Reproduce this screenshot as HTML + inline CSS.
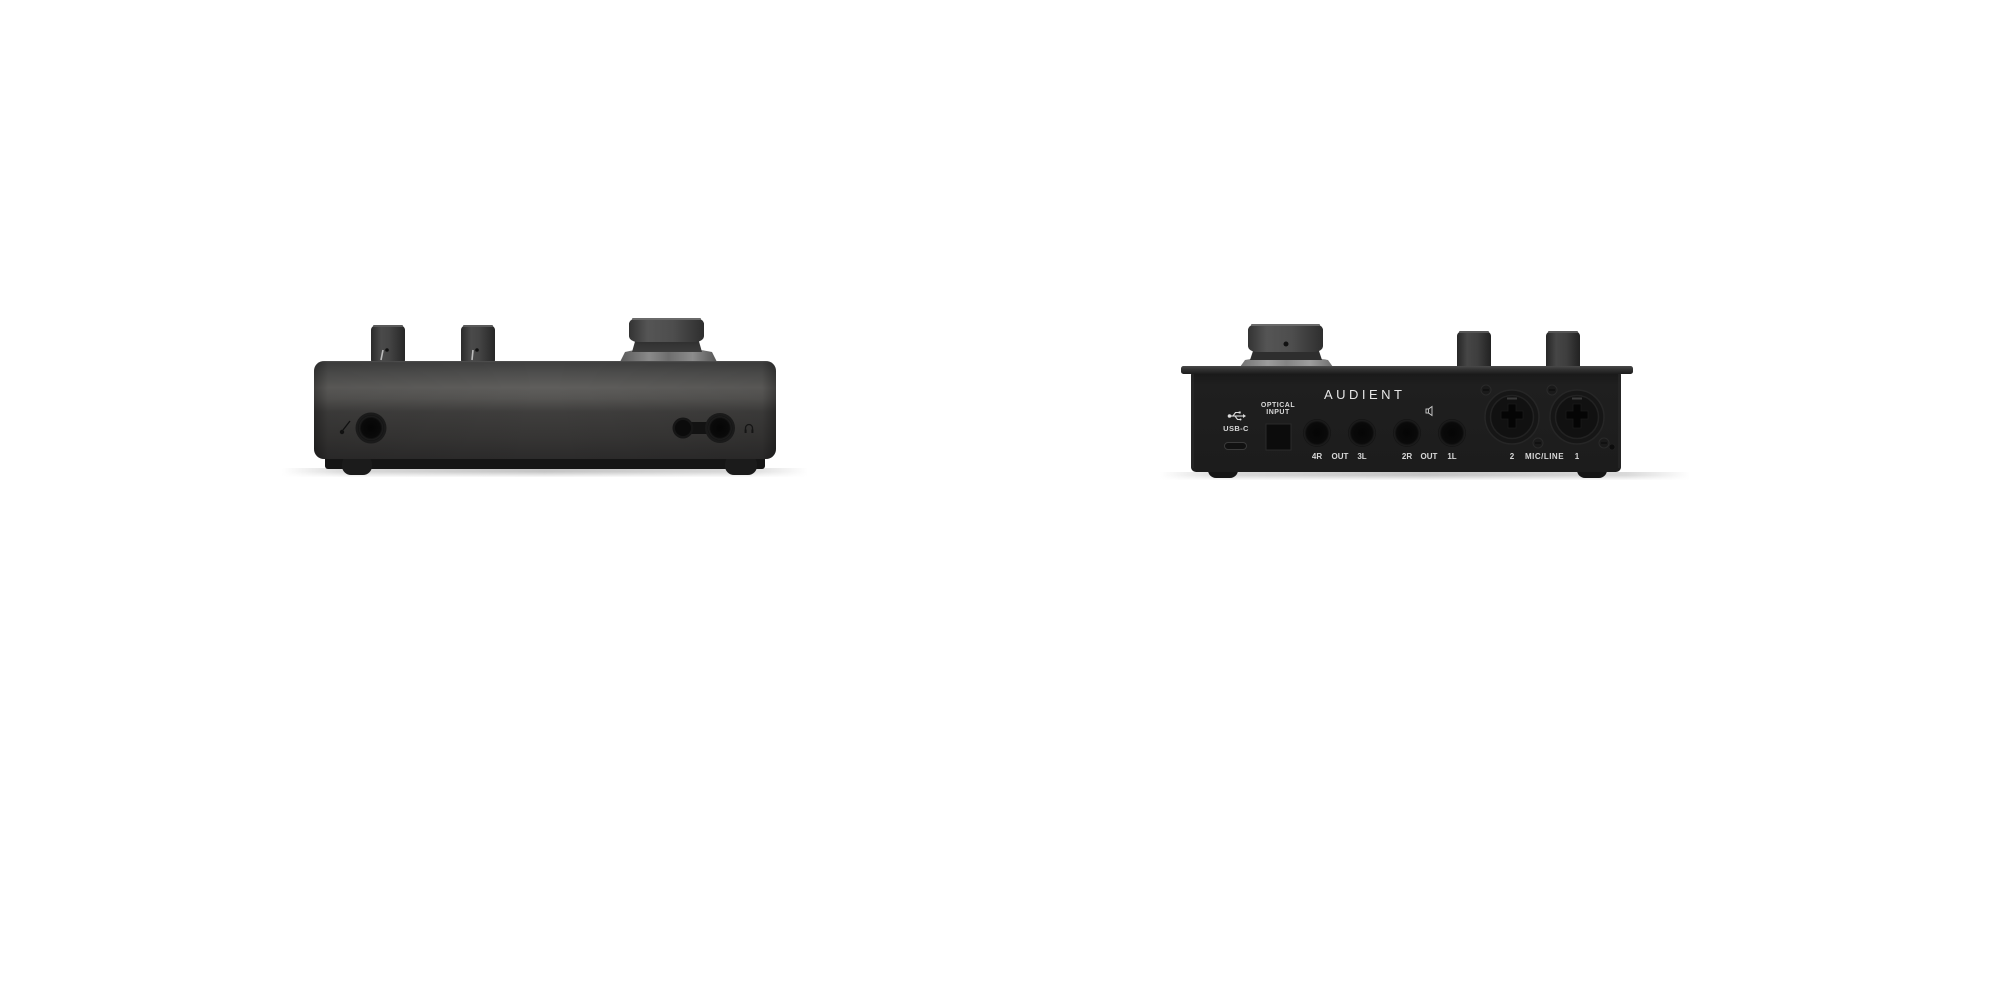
<!DOCTYPE html>
<html>
<head>
<meta charset="utf-8">
<style>
  html,body{margin:0;padding:0;background:#ffffff;}
  body{width:2000px;height:1001px;overflow:hidden;}
  svg{display:block;}
  .lbl{font-family:"Liberation Sans",Arial,sans-serif;font-weight:bold;fill:#d8d8d8;text-anchor:middle;}
</style>
</head>
<body>
<svg width="2000" height="1001" viewBox="0 0 2000 1001" xmlns="http://www.w3.org/2000/svg">
  <defs>
    <linearGradient id="shadowH" x1="0" y1="0" x2="1" y2="0">
      <stop offset="0" stop-color="#ffffff"/>
      <stop offset="0.12" stop-color="#d9d9d9"/>
      <stop offset="0.5" stop-color="#c4c4c4"/>
      <stop offset="0.88" stop-color="#d9d9d9"/>
      <stop offset="1" stop-color="#ffffff"/>
    </linearGradient>
    <linearGradient id="shadowV" x1="0" y1="0" x2="0" y2="1">
      <stop offset="0" stop-color="#fff" stop-opacity="0"/>
      <stop offset="0.4" stop-color="#fff" stop-opacity="0"/>
      <stop offset="1" stop-color="#fff" stop-opacity="0.9"/>
    </linearGradient>
    <linearGradient id="lbody" x1="0" y1="0" x2="0" y2="1">
      <stop offset="0" stop-color="#3e3e3e"/>
      <stop offset="0.12" stop-color="#4e4e4d"/>
      <stop offset="0.27" stop-color="#5f5e5c"/>
      <stop offset="0.38" stop-color="#565553"/>
      <stop offset="0.52" stop-color="#3f3e3d"/>
      <stop offset="0.78" stop-color="#363534"/>
      <stop offset="1" stop-color="#2c2b2b"/>
    </linearGradient>
    <linearGradient id="lbodyEdge" x1="0" y1="0" x2="1" y2="0">
      <stop offset="0" stop-color="#000" stop-opacity="0.35"/>
      <stop offset="0.03" stop-color="#000" stop-opacity="0.08"/>
      <stop offset="0.5" stop-color="#000" stop-opacity="0"/>
      <stop offset="0.97" stop-color="#000" stop-opacity="0.08"/>
      <stop offset="1" stop-color="#000" stop-opacity="0.35"/>
    </linearGradient>
    <linearGradient id="sknob" x1="0" y1="0" x2="1" y2="0">
      <stop offset="0" stop-color="#2a2a2a"/>
      <stop offset="0.3" stop-color="#4a4a4a"/>
      <stop offset="0.55" stop-color="#444"/>
      <stop offset="1" stop-color="#262626"/>
    </linearGradient>
    <linearGradient id="sknobR" x1="0" y1="0" x2="1" y2="0">
      <stop offset="0" stop-color="#262626"/>
      <stop offset="0.3" stop-color="#464646"/>
      <stop offset="0.6" stop-color="#3e3e3e"/>
      <stop offset="1" stop-color="#222"/>
    </linearGradient>
    <linearGradient id="bknob" x1="0" y1="0" x2="1" y2="0">
      <stop offset="0" stop-color="#333"/>
      <stop offset="0.25" stop-color="#555"/>
      <stop offset="0.6" stop-color="#4d4d4d"/>
      <stop offset="1" stop-color="#2e2e2e"/>
    </linearGradient>
    <linearGradient id="bcone" x1="0" y1="0" x2="0" y2="1">
      <stop offset="0" stop-color="#2c2c2c"/>
      <stop offset="1" stop-color="#3c3c3c"/>
    </linearGradient>
    <linearGradient id="flange" x1="0" y1="0" x2="1" y2="0">
      <stop offset="0" stop-color="#5a5a5a"/>
      <stop offset="0.3" stop-color="#8a8a8a"/>
      <stop offset="0.5" stop-color="#6e6e6e"/>
      <stop offset="0.75" stop-color="#8c8c8c"/>
      <stop offset="1" stop-color="#555"/>
    </linearGradient>
    <linearGradient id="lid" x1="0" y1="0" x2="0" y2="1">
      <stop offset="0" stop-color="#4a4a4a"/>
      <stop offset="0.4" stop-color="#333"/>
      <stop offset="1" stop-color="#1c1c1c"/>
    </linearGradient>
    <linearGradient id="rbody" x1="0" y1="0" x2="0" y2="1">
      <stop offset="0" stop-color="#181818"/>
      <stop offset="0.15" stop-color="#1f1f1f"/>
      <stop offset="1" stop-color="#1c1c1c"/>
    </linearGradient>
    <radialGradient id="jack" cx="0.5" cy="0.5" r="0.5">
      <stop offset="0" stop-color="#050505"/>
      <stop offset="0.75" stop-color="#0a0a0a"/>
      <stop offset="0.9" stop-color="#1d1d1d"/>
      <stop offset="1" stop-color="#111"/>
    </radialGradient>
  </defs>

  <rect x="0" y="0" width="2000" height="1001" fill="#ffffff"/>

  <!-- ================= LEFT DEVICE ================= -->
  <rect x="282" y="468" width="526" height="9" fill="url(#shadowH)"/>
  <rect x="282" y="468" width="526" height="9" fill="url(#shadowV)"/>

  <rect x="371" y="325" width="34" height="40" rx="6" ry="5" fill="url(#sknob)"/>
  <rect x="373" y="325" width="30" height="2" rx="1" fill="#5a5a5a"/>
  <line x1="381" y1="360" x2="383" y2="350" stroke="#bdbdbd" stroke-width="1.6"/>
  <circle cx="387" cy="350" r="1.8" fill="#111"/>

  <rect x="461" y="325" width="34" height="40" rx="6" ry="5" fill="url(#sknob)"/>
  <rect x="463" y="325" width="30" height="2" rx="1" fill="#5a5a5a"/>
  <line x1="472" y1="360" x2="473" y2="350" stroke="#bdbdbd" stroke-width="1.6"/>
  <circle cx="477" cy="350" r="1.8" fill="#111"/>

  <path d="M620 362 L625 352 Q640 348 667 348 Q694 348 712 352 L717 362 Z" fill="url(#flange)"/>
  <path d="M632 352 L636 338 L698 338 L702 352 Z" fill="url(#bcone)"/>
  <rect x="629" y="318" width="75" height="24" rx="9" ry="6" fill="url(#bknob)"/>
  <rect x="632" y="318" width="69" height="2" rx="1" fill="#6a6a6a"/>

  <rect x="325" y="452" width="440" height="17" rx="3" fill="#151515"/>
  <rect x="342" y="455" width="30" height="20" rx="9" fill="#1b1b1b"/>
  <rect x="725" y="455" width="32" height="20" rx="9" fill="#1b1b1b"/>

  <rect x="314" y="361" width="462" height="98" rx="10" ry="10" fill="url(#lbody)"/>
  <rect x="314" y="361" width="462" height="98" rx="10" ry="10" fill="url(#lbodyEdge)"/>
  <rect x="322" y="361" width="446" height="1.2" fill="#5a5a5a" opacity="0.5"/>

  <circle cx="371" cy="428" r="15.5" fill="#1a1a1a"/>
  <circle cx="371" cy="428" r="13" fill="url(#jack)"/>
  <line x1="343" y1="430" x2="350" y2="421" stroke="#111" stroke-width="1.4"/>
  <circle cx="342" cy="432" r="2.2" fill="#111"/>

  <rect x="683" y="422" width="37" height="12" fill="#121212"/>
  <circle cx="683" cy="428" r="10.5" fill="#161616"/>
  <circle cx="683" cy="428" r="8" fill="#0b0b0b"/>
  <circle cx="720" cy="428" r="15" fill="#1a1a1a"/>
  <circle cx="720" cy="428" r="12.5" fill="url(#jack)"/>
  <path d="M745.5 432 L745.5 428 A3.5 3.5 0 0 1 752.5 428 L752.5 432" fill="none" stroke="#151515" stroke-width="1.3"/>
  <rect x="744.6" y="429.5" width="2" height="3.5" fill="#151515"/>
  <rect x="751.4" y="429.5" width="2" height="3.5" fill="#151515"/>

  <!-- ================= RIGHT DEVICE ================= -->
  <rect x="1160" y="472" width="530" height="8" fill="url(#shadowH)"/>
  <rect x="1160" y="472" width="530" height="8" fill="url(#shadowV)"/>

  <path d="M1240 367 L1245 360 Q1260 357 1286 357 Q1312 357 1328 360 L1333 367 Z" fill="url(#flange)" opacity="0.85"/>
  <path d="M1250 360 L1254 348 L1318 348 L1322 360 Z" fill="#2e2e2e"/>
  <rect x="1248" y="324" width="75" height="28" rx="9" ry="6" fill="url(#bknob)"/>
  <rect x="1251" y="324" width="69" height="2" rx="1" fill="#6a6a6a"/>
  <circle cx="1286" cy="344" r="2.5" fill="#111"/>

  <rect x="1457" y="331" width="34" height="40" rx="6" ry="5" fill="url(#sknobR)"/>
  <rect x="1459" y="331" width="30" height="2" rx="1" fill="#555"/>
  <rect x="1546" y="331" width="34" height="40" rx="6" ry="5" fill="url(#sknobR)"/>
  <rect x="1548" y="331" width="30" height="2" rx="1" fill="#555"/>

  <rect x="1208" y="462" width="30" height="16" rx="8" fill="#151515"/>
  <rect x="1577" y="462" width="30" height="16" rx="8" fill="#151515"/>

  <rect x="1191" y="370" width="430" height="102" rx="5" fill="url(#rbody)"/>
  <rect x="1191" y="373" width="3" height="95" fill="#2a2a2a" opacity="0.6"/>
  <rect x="1618" y="373" width="3" height="95" fill="#2a2a2a" opacity="0.6"/>
  <rect x="1181" y="366" width="452" height="8" rx="2.5" fill="url(#lid)"/>

  <text x="1324" y="399" textLength="78" lengthAdjust="spacing" style="font-family:'Liberation Sans',Arial,sans-serif;font-size:13px;fill:#e6e6e6;">AUDIENT</text>

  <g stroke="#dcdcdc" stroke-width="1.1" fill="none">
    <line x1="1230" y1="416" x2="1243" y2="416"/>
    <polyline points="1233,416 1235.5,412.5 1239,412.5"/>
    <polyline points="1235,416 1237.5,419.5 1240,419.5"/>
  </g>
  <circle cx="1229.5" cy="416" r="1.8" fill="#dcdcdc"/>
  <path d="M1243 414 L1246 416 L1243 418 Z" fill="#dcdcdc"/>
  <rect x="1238.7" y="411.5" width="2" height="2" fill="#dcdcdc"/>
  <circle cx="1240.5" cy="419.5" r="1" fill="#dcdcdc"/>
  <text class="lbl" x="1236" y="431" style="font-size:7.5px;letter-spacing:0.4px;">USB-C</text>
  <rect x="1224.5" y="442.5" width="22" height="7" rx="3.5" fill="#111" stroke="#3a3a3a" stroke-width="1"/>

  <text class="lbl" x="1278" y="407" style="font-size:7px;letter-spacing:0.5px;">OPTICAL</text>
  <text class="lbl" x="1278" y="414" style="font-size:7px;letter-spacing:0.5px;">INPUT</text>
  <rect x="1266" y="424" width="25" height="26" fill="#0c0c0c" stroke="#2a2a2a" stroke-width="1"/>

  <circle cx="1317" cy="433" r="14" fill="url(#jack)"/>
  <circle cx="1362" cy="433" r="14" fill="url(#jack)"/>
  <circle cx="1407" cy="433" r="14" fill="url(#jack)"/>
  <circle cx="1452" cy="433" r="14" fill="url(#jack)"/>

  <g fill="none" stroke="#cfcfcf" stroke-width="0.9">
    <rect x="1426" y="409" width="2.5" height="4"/>
    <path d="M1428.5 409 L1432 406.5 L1432 415.5 L1428.5 413"/>
  </g>

  <text class="lbl" x="1317" y="459" style="font-size:8px;">4R</text>
  <text class="lbl" x="1340" y="459" style="font-size:8px;">OUT</text>
  <text class="lbl" x="1362" y="459" style="font-size:8px;">3L</text>
  <text class="lbl" x="1407" y="459" style="font-size:8px;">2R</text>
  <text class="lbl" x="1429" y="459" style="font-size:8px;">OUT</text>
  <text class="lbl" x="1452" y="459" style="font-size:8px;">1L</text>
  <text class="lbl" x="1512" y="459" style="font-size:8px;">2</text>
  <text class="lbl" x="1544.5" y="459" style="font-size:8px;letter-spacing:0.5px;">MIC/LINE</text>
  <text class="lbl" x="1577" y="459" style="font-size:8px;">1</text>

  <g>
    <circle cx="1486" cy="390" r="5" fill="#1a1a1a" stroke="#2a2a2a" stroke-width="1"/>
    <line x1="1483" y1="390" x2="1489" y2="390" stroke="#0c0c0c" stroke-width="1.2"/>
    <circle cx="1538" cy="443" r="5" fill="#1a1a1a" stroke="#2a2a2a" stroke-width="1"/>
    <line x1="1535" y1="443" x2="1541" y2="443" stroke="#0c0c0c" stroke-width="1.2"/>
    <circle cx="1512" cy="417" r="27" fill="#161616" stroke="#262626" stroke-width="1.5"/>
    <circle cx="1512" cy="417" r="21.5" fill="#111" stroke="#222" stroke-width="1.5"/>
    <rect x="1507" y="397.5" width="10" height="2" fill="#3a3a3a"/>
    <path d="M1508 404 h8 v7 h7 v8 h-7 v9 h-8 v-9 h-7 v-8 h7 z" fill="#050505" stroke="#1a1a1a" stroke-width="0.8"/>
  </g>
  <g>
    <circle cx="1552" cy="390" r="5" fill="#1a1a1a" stroke="#2a2a2a" stroke-width="1"/>
    <line x1="1549" y1="390" x2="1555" y2="390" stroke="#0c0c0c" stroke-width="1.2"/>
    <circle cx="1604" cy="443" r="5" fill="#1a1a1a" stroke="#2a2a2a" stroke-width="1"/>
    <line x1="1601" y1="443" x2="1607" y2="443" stroke="#0c0c0c" stroke-width="1.2"/>
    <circle cx="1577" cy="417" r="27" fill="#161616" stroke="#262626" stroke-width="1.5"/>
    <circle cx="1577" cy="417" r="21.5" fill="#111" stroke="#222" stroke-width="1.5"/>
    <rect x="1572" y="397.5" width="10" height="2" fill="#3a3a3a"/>
    <path d="M1573 404 h8 v7 h7 v8 h-7 v9 h-8 v-9 h-7 v-8 h7 z" fill="#050505" stroke="#1a1a1a" stroke-width="0.8"/>
  </g>
  <circle cx="1612" cy="447" r="3" fill="#0c0c0c" stroke="#222" stroke-width="0.8"/>
</svg>
</body>
</html>
